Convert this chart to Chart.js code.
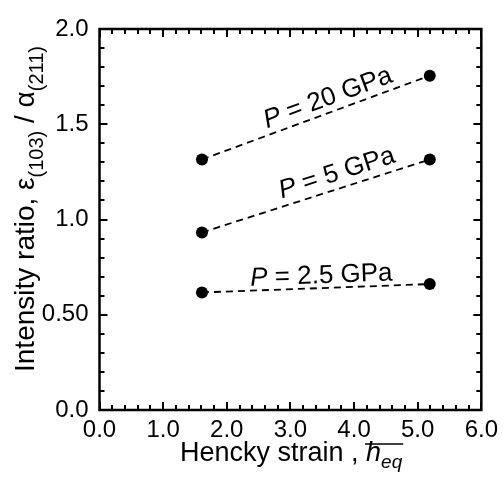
<!DOCTYPE html>
<html>
<head>
<meta charset="utf-8">
<script src="https://cdn.jsdelivr.net/npm/chart.js@4.4.0/dist/chart.umd.min.js"></script>
<style>
html,body{margin:0;padding:0;background:#fff;}
#wrap{width:504px;height:482px;position:relative;}
</style>
</head>
<body>
<div id="wrap"><canvas id="c" width="504" height="482"></canvas></div>
<script>
// ---- data ----
const strainX = [1.61, 5.19];
const ratio20GPa = [1.315, 1.755];
const ratio5GPa = [0.932, 1.315];
const ratio2_5GPa = [0.617, 0.661];
const seriesLabels = ['20 GPa', '5 GPa', '2.5 GPa'];
const xTickLabels = ['0.0', '1.0', '2.0', '3.0', '4.0', '5.0', '6.0'];
const yTickLabels = ['0.0', '0.50', '1.0', '1.5', '2.0'];

const FONT = '"Liberation Sans", Arial, sans-serif';
const seriesValues = [ratio20GPa, ratio5GPa, ratio2_5GPa];
const labelAlong = [18, 27, 6];
const labelPerp = [7, 8, 5];

function pts(ys) { return strainX.map((x, i) => ({x: x, y: ys[i]})); }

const datasets = seriesValues.map((ys, i) => ({
  label: seriesLabels[i],
  data: pts(ys),
  showLine: true,
  borderColor: '#000',
  borderWidth: 1.8,
  borderDash: [7, 5],
  pointRadius: 6,
  pointBackgroundColor: '#000',
  pointBorderWidth: 0
}));

const framePlugin = {
  id: 'frame',
  afterDraw(chart) {
    const ctx = chart.ctx;
    const a = chart.chartArea;
    const xs = chart.scales.x, ys = chart.scales.y;
    ctx.save();
    ctx.strokeStyle = '#000';
    // ticks
    ctx.lineWidth = 2;
    ctx.beginPath();
    for (let v = 0; v <= 6.0001; v += 0.2) {
      const major = Math.abs(v - Math.round(v)) < 1e-6;
      const len = major ? 8 : 5;
      const px = Math.round(xs.getPixelForValue(v));
      ctx.moveTo(px, a.bottom); ctx.lineTo(px, a.bottom - len);
      ctx.moveTo(px, a.top); ctx.lineTo(px, a.top + len);
    }
    for (let v = 0; v <= 2.0001; v += 0.1) {
      const major = Math.abs(v * 2 - Math.round(v * 2)) < 1e-6;
      const len = major ? 8 : 5;
      const py = Math.round(ys.getPixelForValue(v));
      ctx.moveTo(a.left, py); ctx.lineTo(a.left + len, py);
      ctx.moveTo(a.right, py); ctx.lineTo(a.right - len, py);
    }
    ctx.stroke();
    // frame
    ctx.lineWidth = 2.5;
    ctx.strokeRect(a.left, a.top, a.right - a.left, a.bottom - a.top);

    // line labels
    ctx.fillStyle = '#000';
    chart.data.datasets.forEach((ds, i) => {
      const p0 = {x: xs.getPixelForValue(ds.data[0].x), y: ys.getPixelForValue(ds.data[0].y)};
      const p1 = {x: xs.getPixelForValue(ds.data[1].x), y: ys.getPixelForValue(ds.data[1].y)};
      const ang = Math.atan2(p1.y - p0.y, p1.x - p0.x);
      const mx = (p0.x + p1.x) / 2, my = (p0.y + p1.y) / 2;
      ctx.save();
      ctx.translate(mx, my);
      ctx.rotate(ang);
      ctx.translate(labelAlong[i], -labelPerp[i]);
      ctx.textBaseline = 'alphabetic';
      ctx.textAlign = 'left';
      ctx.font = 'italic 26px ' + FONT;
      const pw = ctx.measureText('P').width;
      ctx.font = '26px ' + FONT;
      const rest = ' = ' + ds.label;
      const rw = ctx.measureText(rest).width;
      const start = -(pw + rw) / 2;
      ctx.font = 'italic 26px ' + FONT;
      ctx.fillText('P', start, 0);
      ctx.font = '26px ' + FONT;
      ctx.fillText(rest, start + pw, 0);
      ctx.restore();
    });

    // x title
    ctx.textBaseline = 'alphabetic';
    ctx.textAlign = 'left';
    ctx.font = '27px ' + FONT;
    const t1 = 'Hencky strain , ';
    const w1 = ctx.measureText(t1).width;
    ctx.font = 'italic 27px ' + FONT;
    const wh = ctx.measureText('h').width;
    ctx.font = 'italic 19px ' + FONT;
    const we = ctx.measureText('eq').width;
    const x0 = 180;
    const by = 461;
    ctx.font = '27px ' + FONT;
    ctx.fillText(t1, x0, by);
    ctx.font = 'italic 27px ' + FONT;
    ctx.fillText('h', x0 + w1, by);
    ctx.font = 'italic 19px ' + FONT;
    ctx.fillText('eq', x0 + w1 + wh, by + 7);
    ctx.lineWidth = 1.5;
    ctx.beginPath();
    ctx.moveTo(x0 + w1 - 1, 444); ctx.lineTo(x0 + w1 + wh + we + 1, 444);
    ctx.stroke();

    // y title
    ctx.save();
    ctx.translate(34, 209);
    ctx.rotate(-Math.PI / 2);
    const parts = [
      {t: 'Intensity ratio, ', f: '28px ', dy: 0},
      {t: 'ε', f: '28px ', dy: 0},
      {t: '(103)', f: '20px ', dy: 9},
      {t: ' / ', f: '28px ', dy: 0},
      {t: 'α', f: '28px ', dy: 0},
      {t: '(211)', f: '20px ', dy: 9}
    ];
    let tw = 0;
    parts.forEach(p => { ctx.font = p.f + FONT; p.w = ctx.measureText(p.t).width; tw += p.w; });
    let cx = -tw / 2;
    parts.forEach(p => { ctx.font = p.f + FONT; ctx.fillText(p.t, cx, p.dy); cx += p.w; });
    ctx.restore();
    ctx.restore();
  }
};

new Chart(document.getElementById('c'), {
  type: 'scatter',
  data: {datasets},
  options: {
    responsive: false,
    animation: false,
    events: [],
    layout: {padding: {left: 0, right: 21.5, top: 29, bottom: 0}},
    plugins: {legend: {display: false}, tooltip: {enabled: false}},
    scales: {
      x: {
        type: 'linear', min: 0, max: 6,
        afterFit(s) { s.height = 72; },
        afterBuildTicks(s) { s.ticks = xTickLabels.map(t => ({value: parseFloat(t)})); },
        ticks: {
          color: '#000', padding: 6, maxRotation: 0, autoSkip: false,
          font: {family: FONT, size: 24},
          callback: (v, i) => xTickLabels[i]
        },
        grid: {display: false, drawTicks: false},
        border: {display: false}
      },
      y: {
        type: 'linear', min: 0, max: 2,
        afterFit(s) { s.width = 99.5; },
        afterBuildTicks(s) { s.ticks = yTickLabels.map(t => ({value: parseFloat(t)})); },
        ticks: {
          color: '#000', padding: 11, autoSkip: false,
          font: {family: FONT, size: 24},
          callback: (v, i) => yTickLabels[i]
        },
        grid: {display: false, drawTicks: false},
        border: {display: false}
      }
    }
  },
  plugins: [framePlugin]
});
</script>
</body>
</html>
